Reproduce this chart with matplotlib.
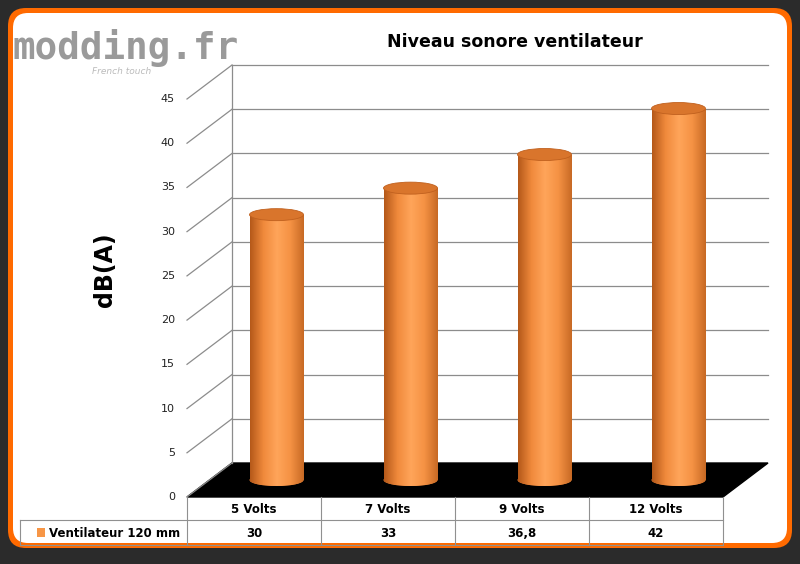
import matplotlib
matplotlib.use("Agg")
import matplotlib.pyplot as plt
import numpy as np
from matplotlib.patches import FancyBboxPatch, Polygon, Ellipse, Rectangle
from matplotlib.colors import LinearSegmentedColormap

categories = ["5 Volts", "7 Volts", "9 Volts", "12 Volts"]
values = [30, 33, 36.8, 42]
value_labels = ["30", "33", "36,8", "42"]
series_name = "Ventilateur 120 mm"
yticks = [0, 5, 10, 15, 20, 25, 30, 35, 40, 45]
title = "Niveau sonore ventilateur"
ylabel = "dB(A)"

fig = plt.figure(figsize=(8, 5.64), dpi=100)
fig.patch.set_facecolor("#2b2b2b")
ax = fig.add_axes([0, 0, 1, 1])
ax.set_xlim(0, 800); ax.set_ylim(564, 0); ax.axis("off")

ax.add_patch(FancyBboxPatch((8, 8), 784, 540, boxstyle="round,pad=0,rounding_size=18",
                            fc="#ff6a00", ec="none"))
ax.add_patch(FancyBboxPatch((13, 13), 774, 530, boxstyle="round,pad=0,rounding_size=15",
                            fc="white", ec="none"))

# chart geometry
x0, x1 = 187, 723          # front floor extent
dx, dy = 45, 34            # depth offset
y0 = 497                   # front baseline
ppu = (497 - 99) / 45.0    # pixels per dB
n = len(categories)
cw = (x1 - x0) / n
def Y(v): return y0 - v * ppu

for v in yticks:
    c = "#8c8c8c"
    ax.plot([x0, x0 + dx], [Y(v), Y(v) - dy], color=c, lw=0.9)
    if v > 0:
        ax.plot([x0 + dx, x1 + dx], [Y(v) - dy, Y(v) - dy], color=c, lw=0.9)
    ax.text(x0 - 12, Y(v), str(v), ha="right", va="center", fontsize=8, color="#222")
ax.plot([x0 + dx, x0 + dx], [Y(0) - dy, Y(45) - dy], color="#8c8c8c", lw=0.9)
ax.plot([x0, x0], [Y(0), Y(45)], color="none")
ax.add_patch(Polygon([(x0, y0), (x1, y0), (x1 + dx, y0 - dy), (x0 + dx, y0 - dy)],
                     closed=True, fc="black", ec="black"))

cmap = LinearSegmentedColormap.from_list("o", ["#b5591a", "#f08a3c", "#ffa55a", "#f59244", "#c86a25"])
grad = np.linspace(0, 1, 100).reshape(1, -1)
bw = 54
for i, v in enumerate(values):
    cx = x0 + (i + 0.5) * cw + dx / 2
    yb = y0 - dy / 2
    yt = Y(v) - dy / 2
    eh = 12
    body = Rectangle((cx - bw / 2, yt), bw, yb - yt, fc="none", ec="none")
    ax.add_patch(body)
    im = ax.imshow(grad, cmap=cmap, extent=(cx - bw / 2, cx + bw / 2, yb, yt), aspect="auto", zorder=3)
    im.set_clip_path(body)
    bot = Ellipse((cx, yb), bw, eh, fc="#e07e35", ec="none", zorder=2.9)
    ax.add_patch(bot)
    im2 = ax.imshow(grad, cmap=cmap, extent=(cx - bw / 2, cx + bw / 2, yb + eh / 2, yb), aspect="auto", zorder=3)
    im2.set_clip_path(bot)
    ax.add_patch(Ellipse((cx, yt), bw, eh, fc="#d9752c", ec="#c0601e", lw=0.6, zorder=4))
ax.set_xlim(0, 800); ax.set_ylim(564, 0)

# data table
tc = "#909090"
ty0, ty1, ty2 = 497, 520, 545
for k in range(n + 1):
    ax.plot([x0 + k * cw] * 2, [ty0, ty2], color=tc, lw=0.8)
ax.plot([x0, x1], [ty1 - 23 + 23, ty1], color="none")
ax.plot([20, x1], [ty1, ty1], color=tc, lw=0.8)
ax.plot([20, x1], [ty2, ty2], color=tc, lw=0.8)
ax.plot([20, 20], [ty1, ty2], color=tc, lw=0.8)
for k, (c, lab) in enumerate(zip(categories, value_labels)):
    xc = x0 + (k + 0.5) * cw
    ax.text(xc, (ty0 + ty1) / 2 + 1, c, ha="center", va="center", fontsize=8.5, fontweight="bold")
    ax.text(xc, (ty1 + ty2) / 2 + 1, lab, ha="center", va="center", fontsize=8.5, fontweight="bold")
ax.add_patch(Rectangle((37, 528), 8, 9, fc="#f79646", ec="none"))
ax.text(49, (ty1 + ty2) / 2 + 1, series_name, ha="left", va="center", fontsize=8.5, fontweight="bold")

ax.text(515, 42, title, ha="center", va="center", fontsize=12.5, fontweight="bold")
ax.text(105, 270, ylabel, ha="center", va="center", rotation=90, fontsize=17, fontweight="bold")

# logo
ax.text(12, 48, "modding.fr", fontsize=27, fontweight="bold", color="#9a9a9a",
        ha="left", va="center", family="DejaVu Sans Mono")
ax.text(92, 72, "French touch", fontsize=6.5, style="italic", color="#bbbbbb", ha="left", va="center")

fig.savefig("out.png", dpi=100, facecolor=fig.get_facecolor())
